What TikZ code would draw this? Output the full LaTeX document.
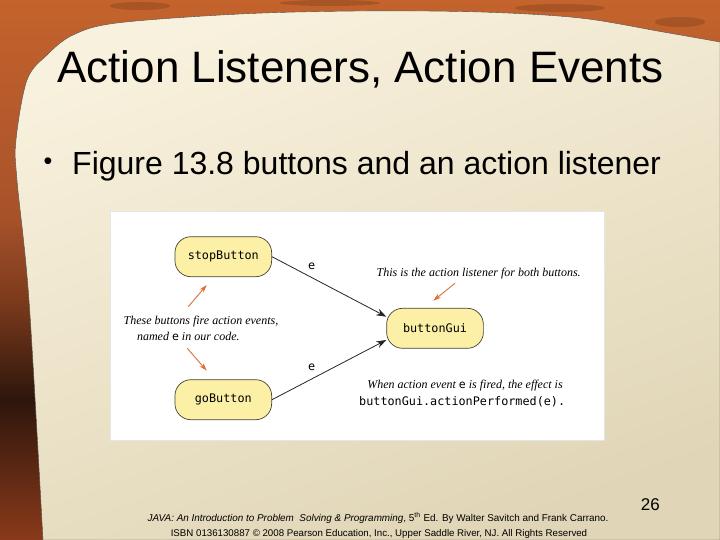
\documentclass[tikz,border=0pt]{standalone}
\usepackage{fontspec}
\setmainfont{Liberation Sans}
\newfontfamily\serifit{Liberation Serif}
\setmonofont{DejaVu Sans Mono}
\usetikzlibrary{arrows.meta,calc}
\definecolor{frameA}{HTML}{C4632C}
\definecolor{frameB}{HTML}{2E160C}
\definecolor{frameC}{HTML}{8A3A1A}
\definecolor{frameD}{HTML}{7A3A1C}
\definecolor{frameE}{HTML}{A8522A}
\definecolor{parchA}{HTML}{F8F1DD}
\definecolor{parchB}{HTML}{E0D5B6}
\definecolor{nodefill}{HTML}{FBF0A6}
\definecolor{nodeline}{HTML}{4A4234}
\definecolor{orangearrow}{HTML}{D9703A}
\pgfdeclareverticalshading{frameshade}{100bp}{color(0bp)=(frameC); color(25bp)=(frameC); color(38bp)=(frameB); color(47bp)=(frameD); color(55bp)=(frameE); color(75bp)=(frameA); color(100bp)=(frameA)}
\tikzset{
  btn/.style={draw=nodeline, line width=0.7pt, fill=nodefill, rounded corners=16pt,
    minimum width=96.7pt, minimum height=40pt, inner sep=0pt,
    font=\fontsize{11.8}{13}\selectfont\ttfamily},
  flow/.style={draw=black!85, line width=0.8pt, -{Stealth[length=10pt,width=7pt]}},
  hint/.style={draw=orangearrow, line width=0.9pt, -{Stealth[length=8pt,width=5pt]}},
  note/.style={inner sep=0pt, anchor=base, font=\fontsize{12}{14}\selectfont\serifit\itshape},
  code/.style={inner sep=0pt, anchor=base, font=\fontsize{11.8}{13}\selectfont\ttfamily},
  lbl/.style={inner sep=0pt, anchor=base, font=\fontsize{11.8}{13}\selectfont\ttfamily},
  streak/.style={fill=frameB, opacity=0.18},
}
\begin{document}
\begin{tikzpicture}[x=1pt,y=-1pt]
\useasboundingbox (0,0) rectangle (720,540);
% frame
\shade[shading=frameshade] (0,0) rectangle (720,540);
\fill[streak] (140,6) ellipse (30pt and 4pt);
\fill[streak] (330,3) ellipse (50pt and 3pt);
\fill[streak] (560,8) ellipse (45pt and 4pt);
\fill[streak] (680,22) ellipse (25pt and 5pt);
% parchment
\shade[top color=parchA, bottom color=parchB, shading angle=20, draw=black!70, line width=0.4pt]
  plot[smooth, tension=0.55] coordinates {(43,540) (29,300) (17,180) (16,140) (27,80) (47,55) (73,35) (117,23) (240,14) (360,11) (480,12) (580,18) (663,32) (720,42)}
  -- (720,540) -- cycle;
% title and bullet
\node[inner sep=0pt, anchor=base west, font=\fontsize{44}{50}\selectfont] (title) at (57,83) {Action Listeners, Action Events};
\node[inner sep=0pt, font=\fontsize{25}{28}\selectfont] (bullet) at (48,164) {•};
\node[inner sep=0pt, anchor=base west, font=\fontsize{32}{36}\selectfont] (sub) at (72,175) {Figure 13.8 buttons and an action listener};
% diagram panel
\node[draw=black!10, fill=white, minimum width=494pt, minimum height=229pt, inner sep=0pt] (panel) at (357,325.5) {};
\node[btn] (stop) at (223.3,256.7) {stopButton};
\node[btn] (go) at (223.3,399.7) {goButton};
\node[btn] (gui) at (435,328.3) {buttonGui};
\draw[flow] (stop.east) -- ($(gui.west)+(0,-11.6)$);
\draw[flow] (go.east) -- ($(gui.west)+(0,11.7)$);
\node[lbl] (e1) at (311.7,269) {e};
\node[lbl] (e2) at (311.7,370.5) {e};
\node[note] (fire1) at (201,324.3) {These buttons fire action events,};
\node[note] (fire2) at (188.3,340.7) {named {\upshape\ttfamily\fontsize{11.5}{13}\selectfont e} in our code.};
\node[note] (listen) at (478.7,276) {This is the action listener for both buttons.};
\node[note] (when) at (465,388.3) {When action event {\upshape\ttfamily\fontsize{11.5}{13}\selectfont e} is fired, the effect is};
\node[code] (perf) at (462.2,405) {buttonGui.actionPerformed(e).};
\coordinate (upS) at (188.3,306.7);
\coordinate (upE) at (206.7,285);
\coordinate (dnS) at (187.3,348.3);
\coordinate (dnE) at (206.7,370.7);
\coordinate (lsS) at (455,283.3);
\coordinate (lsE) at (433.3,300.7);
\draw[hint] (upS) -- (upE);
\draw[hint] (dnS) -- (dnE);
\draw[hint] (lsS) -- (lsE);
% footer
\node[inner sep=0pt, anchor=base east, font=\fontsize{17}{20}\selectfont] (page) at (660,510) {26};
\node[inner sep=0pt, anchor=base, font=\fontsize{9.9}{11}\selectfont] (foot1) at (378,521) {\textit{JAVA: An Introduction to Problem\ \ Solving \& Programming}, 5\textsuperscript{th} Ed. By Walter Savitch and Frank Carrano.};
\node[inner sep=0pt, anchor=base, font=\fontsize{9.7}{11}\selectfont] (foot2) at (379,536) {ISBN 0136130887 © 2008 Pearson Education, Inc., Upper Saddle River, NJ. All Rights Reserved};
\end{tikzpicture}
\end{document}
